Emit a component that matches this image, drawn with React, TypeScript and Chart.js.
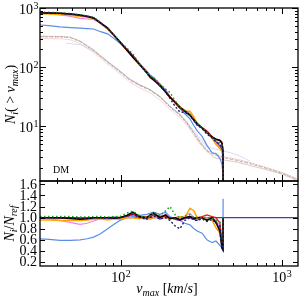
import React, { useEffect, useRef } from 'react';
import { Chart, registerables } from 'chart.js';

Chart.register(...registerables);

// ---------------- data ----------------
// v_max grid of the full-resolution runs (km/s)
const vA = [31.6, 36, 42, 49, 56, 62, 68, 75, 83, 91, 99, 109, 119, 131, 145, 152, 160, 175, 190, 202, 218, 233, 250, 269, 285, 298, 320, 343, 369, 390, 413, 425, 431, 432];

// cumulative counts N(>v_max)
const nBlack = [832, 826, 813, 790, 761, 725, 680, 560, 458, 345, 266, 196, 148, 111, 82, 68.6, 60.8, 49.5, 38, 31.4, 25.6, 21.3, 18.2, 15.4, 12.9, 11.2, 9.4, 8.0, 6.6, 6.1, 5.8, 5.2, 3.9, 1];
const nOrange = [799, 793, 772, 750, 723, 696, 660, 549, 440, 338, 258, 196, 148, 109, 83.6, 66.5, 60.8, 50.5, 38, 30.8, 25.6, 21.7, 18.2, 18.0, 14.4, 11.2, 9.4, 8.0, 6.3, 5.0, 4.2, 3.8, 3.0, 1];
const nMagenta = [824, 809, 772, 719, 670, 652, 639, 549, 458, 345, 263, 200, 155, 111, 83.6, 68.6, 63.2, 49.5, 40.3, 31.4, 25.1, 21.3, 18.7, 16.6, 12.9, 10.9, 9.4, 7.8, 6.6, 5.8, 4.9, 4.2, 3.3, 1];
const nPurple = [832, 826, 805, 774, 746, 718, 680, 560, 458, 348, 266, 200, 157, 111, 80.4, 70, 63.8, 48, 38.8, 31.4, 24.8, 20.2, 17.8, 15.4, 12.5, 10.6, 9.4, 7.7, 6.5, 5.5, 4.6, 4.0, 3.2, 1];
const nRed = [832, 826, 813, 790, 753, 718, 680, 560, 458, 345, 269, 202, 158, 113, 82, 70, 63.8, 51, 38.8, 31.4, 25.6, 20.7, 18.2, 15.7, 12.9, 11.2, 9.6, 8.4, 6.7, 6.1, 5.8, 5.4, 4.0, 1];
const nGreen = [849, 843, 829, 806, 769, 732, 694, 571, 463, 352, 271, 212, 166, 114, 82, 72, 66.9, 51.5, 42.6, 37.7, 26.9, 21.3, 18.7, 16.2, 12.9, 11.2, 9.4, 8.0, 6.5, 5.8, 5.3, 4.8, 3.6, 1];
const nNavy = [832, 826, 813, 790, 746, 718, 680, 560, 453, 345, 266, 202, 157, 111, 79.5, 68.6, 62.6, 48.5, 38, 29.8, 21.8, 17.5, 17.3, 15.4, 12.4, 10.6, 9.2, 7.4, 6.4, 5.5, 4.9, 4.5, 3.5, 1];
const nBlue = [516, 504, 480, 466, 457, 450, 442, 398, 366, 304, 253, 196, 151, 115, 87, 74, 67, 52.5, 42, 32, 24.8, 20.2, 16.4, 13.4, 10.3, 8.5, 6.8, 4.8, 3.6, 3.5, 2.9, 2.3, 1.6, 1];

// lower-resolution runs (pale curves)
const vB = [31.6, 36, 42, 48.5, 56.4, 67.4, 82.3, 98.9, 114, 131, 152, 175, 202, 233, 258, 281, 311, 343, 380, 425, 527, 634, 809, 1016, 1259];
const nGrey = [326, 325, 324, 318, 268, 194, 123, 83, 60.3, 49, 40.7, 31.4, 21.2, 15.4, 11.2, 8.0, 5.2, 3.9, 3.4, 3.0, 2.65, 2.36, 1.94, 1.6, 1.25];
const nPink = [305, 304, 302, 292, 250, 180, 115, 78, 56, 45, 37, 28, 19.5, 14.2, 10.5, 7.4, 5.0, 3.7, 3.3, 3.1, 2.8, 2.45, 2.0, 1.65, 1.3];
const nBrown = [334, 333, 331, 322, 275, 200, 128, 87, 63, 51, 42, 32, 22, 16, 11.5, 8.3, 5.6, 3.9, 3.0, 2.75, 2.5, 2.2, 1.85, 1.55, 1.2];
const nTan = [328, 327, 326, 320, 272, 196, 125, 85, 61, 50, 41.5, 31.8, 21.6, 15.6, 11.3, 8.1, 5.4, 4.0, 3.5, 3.1, 2.7, 2.4, 2.0, 1.62, 1.27];
const vPaleBlue = [46, 56.4, 67.4, 82.3, 98.9, 114, 131, 152, 175, 202, 233, 258, 281, 311, 343, 380, 425, 480, 560, 634];
const nPaleBlue = [255, 240, 190, 125, 86, 63, 50, 42, 32, 22, 16, 12, 8.8, 6.2, 4.5, 4.2, 3.9, 3.6, 3.1, 2.6];

// ratios N_i / N_ref on the vA grid
const rBlack = [1.0, 1.0, 1.0, 0.99, 0.97, 0.98, 1.0, 1.0, 1.0, 0.99, 1.0, 1.04, 1.1, 1.02, 1.0, 1.05, 1.08, 1.0, 1.05, 0.98, 1.0, 0.96, 1.0, 1.02, 0.98, 1.0, 1.0, 0.95, 1.0, 0.92, 0.75, 0.45, 0.42, 1.0];
const rOrange = [0.96, 0.96, 0.95, 0.95, 0.95, 0.96, 0.97, 0.98, 0.96, 0.98, 0.97, 1.0, 1.0, 0.98, 1.02, 0.97, 1.0, 1.02, 1.0, 0.98, 1.0, 1.02, 1.0, 1.17, 1.12, 1.0, 1.0, 1.0, 0.95, 0.82, 0.72, 0.48, 0.45, 1.0];
const rMagenta = [0.99, 0.98, 0.95, 0.91, 0.88, 0.9, 0.94, 0.98, 1.0, 1.0, 0.99, 1.02, 1.05, 1.0, 1.02, 1.0, 1.04, 1.0, 1.06, 1.0, 0.98, 1.0, 1.03, 1.08, 1.0, 0.97, 1.0, 0.98, 1.0, 0.95, 0.85, 0.55, 0.5, 1.0];
const rPurple = [1.0, 1.0, 0.99, 0.98, 0.98, 0.99, 1.0, 1.0, 1.0, 1.01, 1.0, 1.02, 1.06, 1.0, 0.98, 1.02, 1.05, 0.97, 1.02, 1.0, 0.97, 0.95, 0.98, 1.0, 0.97, 0.95, 1.0, 0.96, 0.98, 0.9, 0.8, 0.5, 0.45, 1.0];
const rRed = [1.0, 1.0, 1.0, 1.0, 0.99, 0.99, 1.0, 1.0, 1.0, 1.0, 1.01, 1.03, 1.07, 1.02, 1.0, 1.02, 1.05, 1.03, 1.02, 1.0, 1.0, 0.97, 1.0, 1.02, 1.0, 1.0, 1.02, 1.05, 1.02, 1.0, 0.9, 0.5, 0.44, 1.0];
const rGreen = [1.02, 1.02, 1.02, 1.02, 1.01, 1.01, 1.02, 1.02, 1.01, 1.02, 1.02, 1.08, 1.12, 1.03, 1.0, 1.05, 1.1, 1.04, 1.12, 1.2, 1.05, 1.0, 1.03, 1.05, 1.0, 1.0, 1.0, 1.0, 0.98, 0.95, 0.92, 0.5, 0.45, 1.0];
const rNavy = [1.0, 1.0, 1.0, 1.0, 0.98, 0.99, 1.0, 1.0, 0.99, 1.0, 1.0, 1.03, 1.06, 1.0, 0.97, 1.0, 1.03, 0.98, 1.0, 0.95, 0.85, 0.8, 0.95, 1.0, 0.96, 0.95, 0.98, 0.93, 0.97, 0.9, 0.85, 0.45, 0.42, 1.0];
const rBlue = [0.62, 0.61, 0.59, 0.59, 0.6, 0.62, 0.65, 0.71, 0.8, 0.88, 0.95, 1.0, 1.02, 1.04, 1.06, 1.08, 1.1, 1.06, 1.1, 1.02, 0.97, 0.95, 0.9, 0.87, 0.8, 0.76, 0.72, 0.6, 0.55, 0.58, 0.5, 0.45, 0.42, 1.34];
const vRef = [31.6, 1259];
const rRef = [1, 1];

// axis ranges & tick labels
const X_RANGE = [31.6, 1259];
const N_RANGE = [1.2, 1000];
const R_RANGE = [0.13, 1.66];
const R_TICKS = [0.2, 0.4, 0.6, 0.8, 1.0, 1.2, 1.4, 1.6];
const N_TICK_EXP = [1, 2, 3];
const X_TICK_EXP = [2, 3];
const PANEL_LABEL = 'DM';

// ---------------- helpers ----------------
const FAMILY = '"Liberation Serif", "Times New Roman", serif';
const pts = (xs: number[], ys: number[]) => xs.map((x, i) => ({ x, y: ys[i] }));

type Seg = [string, number]; // flag 1 = italic, 2 = subscript
function rich(ctx: CanvasRenderingContext2D, segs: Seg[], tx: number, ty: number, size: number, rotate: boolean) {
  const fontOf = (f: number) => `${f & 1 ? 'italic ' : ''}${f & 2 ? Math.round(size * 0.72) : size}px ${FAMILY}`;
  let w = 0;
  for (const [t, f] of segs) { ctx.font = fontOf(f); w += ctx.measureText(t).width; }
  ctx.save();
  ctx.translate(tx, ty);
  if (rotate) ctx.rotate(-Math.PI / 2);
  ctx.textAlign = 'left';
  ctx.textBaseline = 'alphabetic';
  ctx.fillStyle = '#000';
  let x = -w / 2;
  for (const [t, f] of segs) {
    ctx.font = fontOf(f);
    ctx.fillText(t, x, f & 2 ? size * 0.24 : 0);
    x += ctx.measureText(t).width;
  }
  ctx.restore();
}

// "10^e" label; anchor: 'right' (x = right edge) or 'center'
function powText(ctx: CanvasRenderingContext2D, e: number, x: number, baseline: number, anchor: 'right' | 'center') {
  const big = `14px ${FAMILY}`;
  const small = `10px ${FAMILY}`;
  ctx.font = big;
  const w1 = ctx.measureText('10').width;
  ctx.font = small;
  const w2 = ctx.measureText(String(e)).width;
  const start = anchor === 'right' ? x - w1 - w2 : x - (w1 + w2) / 2;
  ctx.textAlign = 'left';
  ctx.textBaseline = 'alphabetic';
  ctx.font = big;
  ctx.fillText('10', start, baseline);
  ctx.font = small;
  ctx.fillText(String(e), start + w1 + 0.5, baseline - 5.5);
}

const Y_TITLE_TOP: Seg[] = [['N', 1], ['i', 3], ['(', 0], [' > ', 0], ['v', 1], ['max', 3], [')', 0]];
const Y_TITLE_BOT: Seg[] = [['N', 1], ['i', 3], ['/', 0], ['N', 1], ['ref', 3]];
const X_TITLE: Seg[] = [['v', 1], ['max', 3], [' [', 0], ['km', 1], ['/', 0], ['s', 1], [']', 0]];

function framePlugin(kind: 'top' | 'bottom', offsetY: number) {
  return {
    id: 'frame_' + kind,
    afterDraw(chart: any) {
      const { ctx, chartArea: a, scales } = chart;
      const xs = scales.x, ys = scales.y;
      ctx.save();
      ctx.strokeStyle = '#000';
      ctx.lineWidth = 1;
      const seg = (x1: number, y1: number, x2: number, y2: number) => {
        ctx.beginPath(); ctx.moveTo(x1, y1); ctx.lineTo(x2, y2); ctx.stroke();
      };
      for (let d = 1; d <= 3; d++) for (let m = 1; m <= 9; m++) {
        const v = m * Math.pow(10, d);
        if (v < xs.min || v > xs.max) continue;
        const p = Math.round(xs.getPixelForValue(v)) + 0.5;
        const L = m === 1 ? 6 : 3;
        seg(p, a.top, p, a.top + L);
        seg(p, a.bottom, p, a.bottom - L);
      }
      if (kind === 'top') {
        for (let d = 0; d <= 3; d++) for (let m = 1; m <= 9; m++) {
          const v = m * Math.pow(10, d);
          if (v < ys.min || v > ys.max) continue;
          const p = Math.round(ys.getPixelForValue(v)) + 0.5;
          const L = m === 1 ? 6 : 3;
          seg(a.left, p, a.left + L, p);
          seg(a.right, p, a.right - L, p);
        }
      } else {
        for (const v of R_TICKS) {
          const p = Math.round(ys.getPixelForValue(v)) + 0.5;
          seg(a.left, p, a.left + 5, p);
          seg(a.right, p, a.right - 5, p);
        }
      }
      ctx.lineWidth = 1.3;
      ctx.strokeRect(a.left, a.top, a.right - a.left, a.bottom - a.top);
      ctx.fillStyle = '#000';
      if (kind === 'top') {
        for (const e of N_TICK_EXP) {
          const p = ys.getPixelForValue(Math.pow(10, e));
          powText(ctx, e, a.left - 2, p + 6, 'right');
        }
        ctx.font = `10px ${FAMILY}`;
        ctx.textAlign = 'left';
        ctx.textBaseline = 'alphabetic';
        ctx.fillText(PANEL_LABEL, 53, 173 - offsetY);
        rich(ctx, Y_TITLE_TOP, 15, (a.top + a.bottom) / 2, 14, true);
      } else {
        ctx.font = `14px ${FAMILY}`;
        ctx.textAlign = 'right';
        ctx.textBaseline = 'middle';
        for (const v of R_TICKS) {
          ctx.fillText(v.toFixed(1), a.left - 3, ys.getPixelForValue(v) + 0.5);
        }
        for (const e of X_TICK_EXP) {
          const p = xs.getPixelForValue(Math.pow(10, e));
          powText(ctx, e, p, 282 - offsetY, 'center');
        }
        rich(ctx, Y_TITLE_BOT, 13.5, (a.top + a.bottom) / 2, 14, true);
        rich(ctx, X_TITLE, 167, 293 - offsetY, 14, false);
      }
      ctx.restore();
    },
  };
}

const line = (label: string, data: any[], color: string, width: number, dash: number[] = []) => ({
  label, data, borderColor: color, borderWidth: width, borderDash: dash,
  pointRadius: 0, fill: false, tension: 0,
});

const hiddenAxis = { grid: { display: false }, border: { display: false }, ticks: { display: false } };

export default function App() {
  const topRef = useRef<HTMLCanvasElement>(null);
  const botRef = useRef<HTMLCanvasElement>(null);

  useEffect(() => {
    const base = {
      animation: false as const,
      responsive: false,
      devicePixelRatio: 1,
      events: [] as any[],
      plugins: { legend: { display: false }, tooltip: { enabled: false } },
    };

    const top = new Chart(topRef.current as HTMLCanvasElement, {
      type: 'line',
      data: {
        datasets: [
          line('navy', pts(vA, nNavy), '#1b1b70', 1.4, [2, 2]),
          line('green', pts(vA, nGreen), '#1f9e2a', 1.6, [1.5, 2.5]),
          line('black', pts(vA, nBlack), '#000000', 1.5),
          line('red', pts(vA, nRed), '#e41a1c', 1.5),
          line('orange', pts(vA, nOrange), '#ffa500', 1.5),
          line('purple', pts(vA, nPurple), '#7b2fbf', 1.2),
          line('magenta', pts(vA, nMagenta), '#ee82ee', 1.2),
          line('blue', pts(vA, nBlue), '#5b8ee8', 1.2),
          line('tan', pts(vB, nTan), 'rgba(175,160,130,0.75)', 1.2, [1, 2]),
          line('grey', pts(vB, nGrey), 'rgba(150,150,150,0.6)', 1, [3, 2]),
          line('brown', pts(vB, nBrown), 'rgba(170,120,110,0.4)', 1),
          line('pink', pts(vB, nPink), 'rgba(240,150,160,0.4)', 1),
          line('paleblue', pts(vPaleBlue, nPaleBlue), 'rgba(140,170,235,0.4)', 1),
        ],
      },
      options: {
        ...base,
        layout: { padding: { left: 0, right: 2, top: 8, bottom: 1 } },
        scales: {
          x: {
            type: 'logarithmic', min: X_RANGE[0], max: X_RANGE[1],
            afterFit: (s: any) => { s.height = 0; },
            ...hiddenAxis,
          },
          y: {
            type: 'logarithmic', min: N_RANGE[0], max: N_RANGE[1],
            afterFit: (s: any) => { s.width = 40; },
            ...hiddenAxis,
          },
        },
      } as any,
      plugins: [framePlugin('top', 0)],
    });

    const bot = new Chart(botRef.current as HTMLCanvasElement, {
      type: 'line',
      data: {
        datasets: [
          line('navy', pts(vA, rNavy), '#1b1b70', 1.4, [2, 2]),
          line('green', pts(vA, rGreen), '#1f9e2a', 1.6, [1.5, 2.5]),
          line('black', pts(vA, rBlack), '#000000', 1.5),
          line('red', pts(vA, rRed), '#e41a1c', 1.3),
          line('orange', pts(vA, rOrange), '#ffa500', 1.5),
          line('purple', pts(vA, rPurple), '#7b2fbf', 1.2),
          line('magenta', pts(vA, rMagenta), '#ee82ee', 1.2),
          line('blue', pts(vA, rBlue), '#5b8ee8', 1.2),
          line('ref', pts(vRef, rRef), '#4a3f96', 1.3),
        ],
      },
      options: {
        ...base,
        layout: { padding: { left: 0, right: 2, top: 5, bottom: 0 } },
        scales: {
          x: {
            type: 'logarithmic', min: X_RANGE[0], max: X_RANGE[1],
            afterFit: (s: any) => { s.height = 32; },
            ...hiddenAxis,
          },
          y: {
            type: 'linear', min: R_RANGE[0], max: R_RANGE[1],
            afterFit: (s: any) => { s.width = 40; },
            ...hiddenAxis,
          },
        },
      } as any,
      plugins: [framePlugin('bottom', 176)],
    });

    return () => { top.destroy(); bot.destroy(); };
  }, []);

  return (
    <div style={{ position: 'fixed', left: 0, top: 0, width: 300, height: 298, background: '#fff', overflow: 'hidden' }}>
      <canvas ref={topRef} width={300} height={182} style={{ position: 'absolute', left: 0, top: 0 }} />
      <canvas ref={botRef} width={300} height={122} style={{ position: 'absolute', left: 0, top: 176 }} />
    </div>
  );
}
